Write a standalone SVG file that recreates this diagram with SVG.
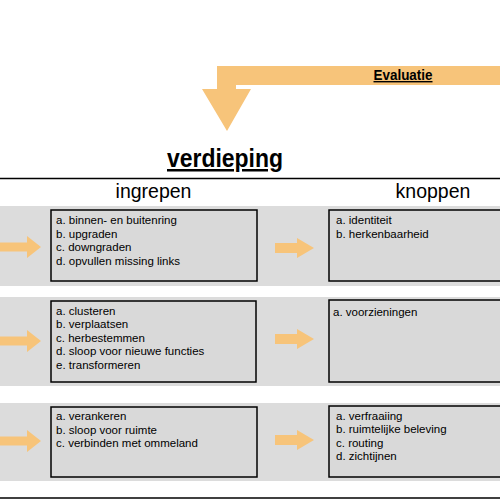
<svg xmlns="http://www.w3.org/2000/svg" xmlns:xlink="http://www.w3.org/1999/xlink" width="500" height="500" viewBox="0 0 500 500">
  <style>
    .band { fill: #dcdcdc; }
    .box { fill: #d9d9d9; stroke: #000; stroke-width: 1.5; }
    .item { font-family: "Liberation Sans", Arial, sans-serif; font-size: 11.5px; fill: #000; }
    .head { font-family: "Liberation Sans", Arial, sans-serif; font-size: 19.5px; fill: #000; text-anchor: middle; }
    .title { font-family: "Liberation Sans", Arial, sans-serif; font-weight: bold; fill: #000; text-decoration: underline; }
    .arrow { fill: #f7c47a; }
    .rule { stroke: #000; stroke-width: 1.5; }
  </style>
  <defs>
    <path id="arrR" d="M-39,-5 H-17 V-10 L0,0 L-17,10 V5 H-39 Z"/>
    <path id="arrL" d="M-45,-4.5 H-14 V-11 L0,0 L-14,11 V4.5 H-45 Z"/>
  </defs>
  <rect width="500" height="500" fill="#fff"/>

  <g id="headers">
    <line class="rule" x1="0" y1="178.5" x2="500" y2="178.5"/>
    <line class="rule" x1="0" y1="498" x2="500" y2="498"/>
    <text class="title" x="167" y="167" font-size="25" textLength="116" lengthAdjust="spacingAndGlyphs">verdieping</text>
    <text class="head" x="153.5" y="198">ingrepen</text>
    <text class="head" x="433" y="198">knoppen</text>
  </g>

  <g id="bands">
    <rect class="band" x="0" y="206" width="500" height="80"/>
    <rect class="band" x="0" y="297" width="500" height="89"/>
    <rect class="band" x="0" y="403" width="500" height="78"/>
  </g>

  <g id="connectors">
    <path id="evaluatie-arrow" class="arrow" d="M500,66 H217 V89 H202 L227,131 L251,89 H236 V85 H500 Z"/>
    <use class="arrow" xlink:href="#arrL" href="#arrL" transform="translate(41,247)"/>
    <use class="arrow" xlink:href="#arrL" href="#arrL" transform="translate(41,341)"/>
    <use class="arrow" xlink:href="#arrL" href="#arrL" transform="translate(41,441)"/>
    <use class="arrow" xlink:href="#arrR" href="#arrR" transform="translate(314,248)"/>
    <use class="arrow" xlink:href="#arrR" href="#arrR" transform="translate(314,339)"/>
    <use class="arrow" xlink:href="#arrR" href="#arrR" transform="translate(314,440)"/>
  </g>

  <g id="evaluatie">
    <text class="title" x="403" y="80" font-size="14" text-anchor="middle" textLength="59" lengthAdjust="spacingAndGlyphs">Evaluatie</text>
  </g>

  <g id="ingrepen-1">
    <rect class="box" x="51" y="210" width="206" height="71"/>
    <text class="item" x="56" y="224">a. binnen- en buitenring</text>
    <text class="item" x="56" y="237.5">b. upgraden</text>
    <text class="item" x="56" y="251">c. downgraden</text>
    <text class="item" x="56" y="264.5">d. opvullen missing links</text>
  </g>

  <g id="knoppen-1">
    <rect class="box" x="329" y="210" width="180" height="71"/>
    <text class="item" x="336" y="224">a. identiteit</text>
    <text class="item" x="336" y="237.5">b. herkenbaarheid</text>
  </g>

  <g id="ingrepen-2">
    <rect class="box" x="51" y="301" width="205" height="81"/>
    <text class="item" x="56" y="314.5">a. clusteren</text>
    <text class="item" x="56" y="328">b. verplaatsen</text>
    <text class="item" x="56" y="341.5">c. herbestemmen</text>
    <text class="item" x="56" y="355">d. sloop voor nieuwe functies</text>
    <text class="item" x="56" y="368.5">e. transformeren</text>
  </g>

  <g id="knoppen-2">
    <rect class="box" x="329" y="300" width="180" height="82"/>
    <text class="item" x="333" y="316">a. voorzieningen</text>
  </g>

  <g id="ingrepen-3">
    <rect class="box" x="51" y="407" width="206" height="70"/>
    <text class="item" x="56" y="420">a. verankeren</text>
    <text class="item" x="56" y="433.5">b. sloop voor ruimte</text>
    <text class="item" x="56" y="447">c. verbinden met ommeland</text>
  </g>

  <g id="knoppen-3">
    <rect class="box" x="329" y="406" width="180" height="71"/>
    <text class="item" x="336" y="419.5">a. verfraaiing</text>
    <text class="item" x="336" y="433">b. ruimtelijke beleving</text>
    <text class="item" x="336" y="446.5">c. routing</text>
    <text class="item" x="336" y="460">d. zichtijnen</text>
  </g>
</svg>
